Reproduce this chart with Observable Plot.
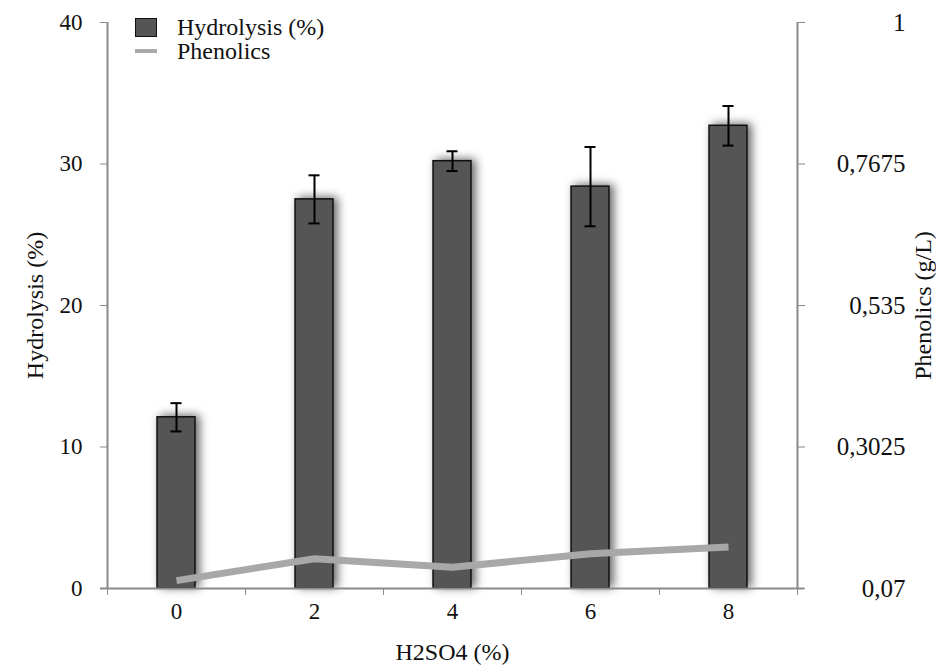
<!DOCTYPE html>
<html>
<head>
<meta charset="utf-8">
<script src="https://cdn.jsdelivr.net/npm/d3@7"></script>
<script src="https://cdn.jsdelivr.net/npm/@observablehq/plot@0.6"></script>
<style>
  html, body { margin: 0; padding: 0; background: #fff; }
  #wrap { position: relative; width: 936px; height: 666px; }
  .legend { position: absolute; left: 135px; top: 15px; font-family: "Liberation Serif", serif; font-size: 24px; color: #111; line-height: 24px; }
  .legend .row { display: flex; align-items: center; height: 24px; }
  .legend .sw { width: 22px; margin-right: 20px; display: inline-block; }
  .legend .box { height: 19px; background: #555; border: 1.5px solid #111; box-sizing: border-box; }
  .legend .ln { height: 4px; background: #aaa; }
</style>
</head>
<body>
<div id="wrap"></div>
<script>
// ---- data ----
const acid = [0, 2, 4, 6, 8];                       // H2SO4 (%)
const hydrolysis = [12.1, 27.5, 30.2, 28.4, 32.7];  // Hydrolysis (%)
const hydrolysisErr = [1.0, 1.7, 0.7, 2.8, 1.4];    // error bars (±)
const phenolics = [0.083, 0.119, 0.105, 0.127, 0.138]; // g/L
const hydroTicks = [0, 10, 20, 30, 40];
const phenolicsTicks = [0.07, 0.3025, 0.535, 0.7675, 1];
const xLabel = "H2SO4 (%)";
const yLabel = "Hydrolysis (%)";
const y2Label = "Phenolics (g/L)";

// ---- derived ----
const pMin = phenolicsTicks[0], pMax = phenolicsTicks[phenolicsTicks.length - 1];
const hMax = hydroTicks[hydroTicks.length - 1];
const toY = p => (p - pMin) / (pMax - pMin) * hMax;
const data = acid.map((a, i) => ({acid: a, hydro: hydrolysis[i], err: hydrolysisErr[i], phen: phenolics[i]}));
const step = acid[1] - acid[0];
const xMin = acid[0] - step / 2, xMax = acid[acid.length - 1] + step / 2;
const bounds = [xMin, ...acid.map(a => a + step / 2)];
const half = 0.275;   // half bar width in x units
const cap = 0.08;     // half error-cap width
const fmt = v => String(v).replace(".", ",");
const serif = "'Liberation Serif', serif";

const chart = Plot.plot({
  width: 936,
  height: 666,
  marginLeft: 107,
  marginRight: 139,
  marginTop: 22,
  marginBottom: 78,
  style: {fontFamily: serif, fontSize: "23px", color: "#111", background: "white"},
  x: {domain: [xMin, xMax], axis: null, label: null},
  y: {domain: [0, hMax], axis: null, label: null},
  marks: [
    Plot.rectY(data, {x1: d => d.acid - half, x2: d => d.acid + half, y1: 0, y2: "hydro",
      fill: "#555", stroke: "#111", strokeWidth: 1.5}),
    Plot.ruleX(data, {x: "acid", y1: d => d.hydro - d.err, y2: d => d.hydro + d.err, stroke: "#000", strokeWidth: 2}),
    Plot.ruleY(data, {y: d => d.hydro + d.err, x1: d => d.acid - cap, x2: d => d.acid + cap, stroke: "#000", strokeWidth: 2}),
    Plot.ruleY(data, {y: d => d.hydro - d.err, x1: d => d.acid - cap, x2: d => d.acid + cap, stroke: "#000", strokeWidth: 2}),
    Plot.line(data, {x: "acid", y: d => toY(d.phen), stroke: "#a8a8a8", strokeWidth: 7, strokeLinejoin: "round", strokeLinecap: "butt"}),
    // axis lines
    Plot.ruleX([xMin], {y1: 0, y2: hMax, stroke: "#8a8a8a", strokeWidth: 2}),
    Plot.ruleX([xMax], {y1: 0, y2: hMax, stroke: "#8a8a8a", strokeWidth: 2}),
    Plot.ruleY([0], {x1: xMin, x2: xMax, insetLeft: -7, insetRight: -7, stroke: "#8a8a8a", strokeWidth: 2}),
    // left axis
    Plot.axisY({ticks: hydroTicks, label: null, tickSize: 7, tickPadding: 18, stroke: "#8a8a8a", fill: "#111",
      fontSize: 23, fontFamily: serif, tickFormat: d => String(d)}),
    // right axis
    Plot.axisY({anchor: "right", label: null, ticks: hydroTicks, tickSize: 7, tickPadding: 101, textAnchor: "end",
      stroke: "#8a8a8a", fill: "#111", fontSize: 25, fontFamily: serif,
      tickFormat: t => fmt(phenolicsTicks[hydroTicks.indexOf(t)])}),
    // x axis tick marks at category boundaries
    Plot.axisX({ticks: bounds, label: null, tickSize: 7, tickFormat: () => "", stroke: "#8a8a8a"}),
    // x axis labels
    Plot.axisX({ticks: acid, label: null, tickSize: 0, tickPadding: 14, fill: "#111", fontSize: 23,
      fontFamily: serif, tickFormat: d => String(d)}),
    // titles
    Plot.text([yLabel], {text: d => d, frameAnchor: "left", textAnchor: "middle", dx: -72, rotate: -90,
      fontSize: 24, fontFamily: serif, fill: "#111"}),
    Plot.text([y2Label], {text: d => d, frameAnchor: "right", textAnchor: "middle", dx: 126, rotate: -90,
      fontSize: 24, fontFamily: serif, fill: "#111"}),
    Plot.text([xLabel], {text: d => d, frameAnchor: "bottom", textAnchor: "middle", dy: 71,
      fontSize: 24, fontFamily: serif, fill: "#111"})
  ]
});

d3.select(chart).selectAll('g[aria-label="rect"] rect')
  .style("filter", "drop-shadow(4px -1px 5px rgba(0,0,0,0.6))");

const wrap = document.getElementById("wrap");
wrap.appendChild(chart);
const legend = document.createElement("div");
legend.className = "legend";
legend.innerHTML =
  '<div class="row"><span class="sw box"></span><span>Hydrolysis (%)</span></div>' +
  '<div class="row"><span class="sw ln"></span><span>Phenolics</span></div>';
wrap.appendChild(legend);
</script>
</body>
</html>
